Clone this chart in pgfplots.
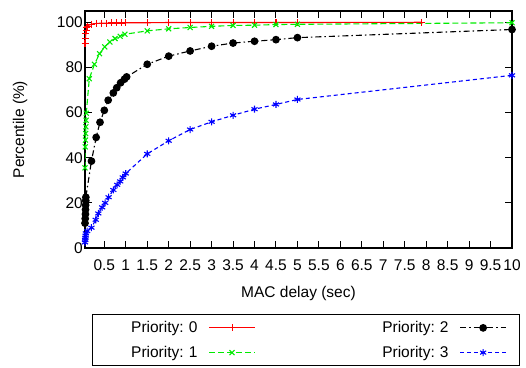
\documentclass[border=0pt]{standalone}
\usepackage{pgfplots}
\pgfplotsset{compat=1.18}
\usepackage{fontspec}
\setmainfont{Liberation Sans}
\definecolor{gpgreen}{RGB}{0,235,0}
\begin{document}
\frenchspacing
\begin{tikzpicture}[font=\fontsize{15.5}{18}\selectfont\frenchspacing]
\begin{axis}[
  scale only axis, width=427pt, height=237pt,
  xmin=0.05, xmax=10, ymin=0, ymax=105,
  xtick={0.5,1,1.5,2,2.5,3,3.5,4,4.5,5,5.5,6,6.5,7,7.5,8,8.5,9,9.5,10},
  xticklabels={0.5,1,1.5,2,2.5,3,3.5,4,4.5,5,5.5,6,6.5,7,7.5,8,8.5,9,9.5,10},
  ytick={0,20,40,60,80,100},
  tick align=inside, major tick length=7pt,
  axis line style={line width=1.2pt, black},
  every tick/.style={black, line width=1pt},
  /pgf/number format/assume math mode=true,
  xticklabel style={yshift=-8pt, inner xsep=0pt},
  yticklabel style={inner xsep=2pt},
  xlabel={MAC delay (sec)}, ylabel={Percentile (\%)},
  every axis x label/.style={at={(axis description cs:0.5,-0.2068)}, anchor=base},
  every axis y label/.style={at={(axis description cs:-0.1522,0.5)}, rotate=90, anchor=center},
  legend plot pos=right, legend columns=2, transpose legend,
  legend style={at={(axis description cs:0.0164,-0.2785)}, anchor=north west,
    draw=black, line width=1pt, inner xsep=13pt, inner ysep=7pt, row sep=12pt,
    nodes={inner sep=0pt, text width=92pt, align=right},
    /tikz/every odd column/.append style={column sep=11pt},
    /tikz/every even column/.append style={column sep=101pt}},
  legend image code/.code={\draw[mark repeat=2,mark phase=2,#1] plot coordinates {(0pt,0pt) (23pt,0pt) (46pt,0pt)};},
]
\addplot[red, line width=1.1pt, mark=+, mark size=3.5pt, mark options={solid}] table {
x y
0.05 90.5
0.06 93
0.07 95
0.08 96.5
0.09 97.5
0.1 98.3
0.2 99.2
0.32 99.5
0.44 99.6
0.56 99.6
0.67 99.7
0.79 99.7
0.9 99.7
1.0 99.8
1.5 99.8
2 99.9
2.5 99.9
3 99.9
3.5 99.9
4 99.9
4.5 99.9
5 99.9
7.9 100
};
\addlegendentry{Priority:\ 0}
\addplot[gpgreen, line width=1.1pt, dash pattern=on 6pt off 3pt, mark=x, mark size=3.5pt, mark options={solid}] table {
x y
0.05 35.5
0.055 44.8
0.06 47.8
0.065 50.7
0.07 53.7
0.075 56.6
0.08 59.7
0.15 75
0.27 81.4
0.39 86.1
0.51 89.1
0.63 91.3
0.75 92.8
0.87 93.8
0.98 94.7
1.5 96.2
2 97.1
2.5 97.7
3 98.2
3.5 98.6
4 98.7
4.5 99
5 99.1
10 99.8
};
\addlegendentry{Priority:\ 1}
\addplot[black, line width=1.1pt, dash pattern=on 6pt off 3pt on 1.5pt off 3pt, mark=*, mark size=3.3pt, mark options={solid}] table {
x y
0.05 11
0.055 13
0.06 15
0.062 17
0.065 19
0.068 21
0.07 22.5
0.2 38.5
0.31 49
0.4 55.7
0.5 61
0.59 65.5
0.71 68.7
0.79 71
0.88 73.2
0.97 74.8
1.02 75.8
1.5 81.4
2 85
2.5 87.3
3 89.4
3.5 90.8
4 91.6
4.5 92.3
5 93.2
10 96.8
};
\addlegendentry{Priority:\ 2}
\addplot[blue, line width=1.1pt, dash pattern=on 4pt off 3pt, mark=asterisk, mark size=3.5pt, mark options={solid}] table {
x y
0.05 2.5
0.055 3.5
0.06 4.5
0.065 5.5
0.07 6.5
0.1 7.5
0.2 9
0.3 12.5
0.36 15.3
0.45 18
0.52 20
0.6 22.5
0.71 25.7
0.8 28
0.87 29.5
0.93 31.3
1.0 33
1.5 41.7
2 47.5
2.5 52.5
3 55.9
3.5 58.8
4 61.5
4.5 63.6
5 65.8
10 76.5
};
\addlegendentry{Priority:\ 3}
\end{axis}
\pgfresetboundingbox
\path[use as bounding box] (-85pt,-119pt) rectangle (441pt,248pt);
\end{tikzpicture}
\end{document}
